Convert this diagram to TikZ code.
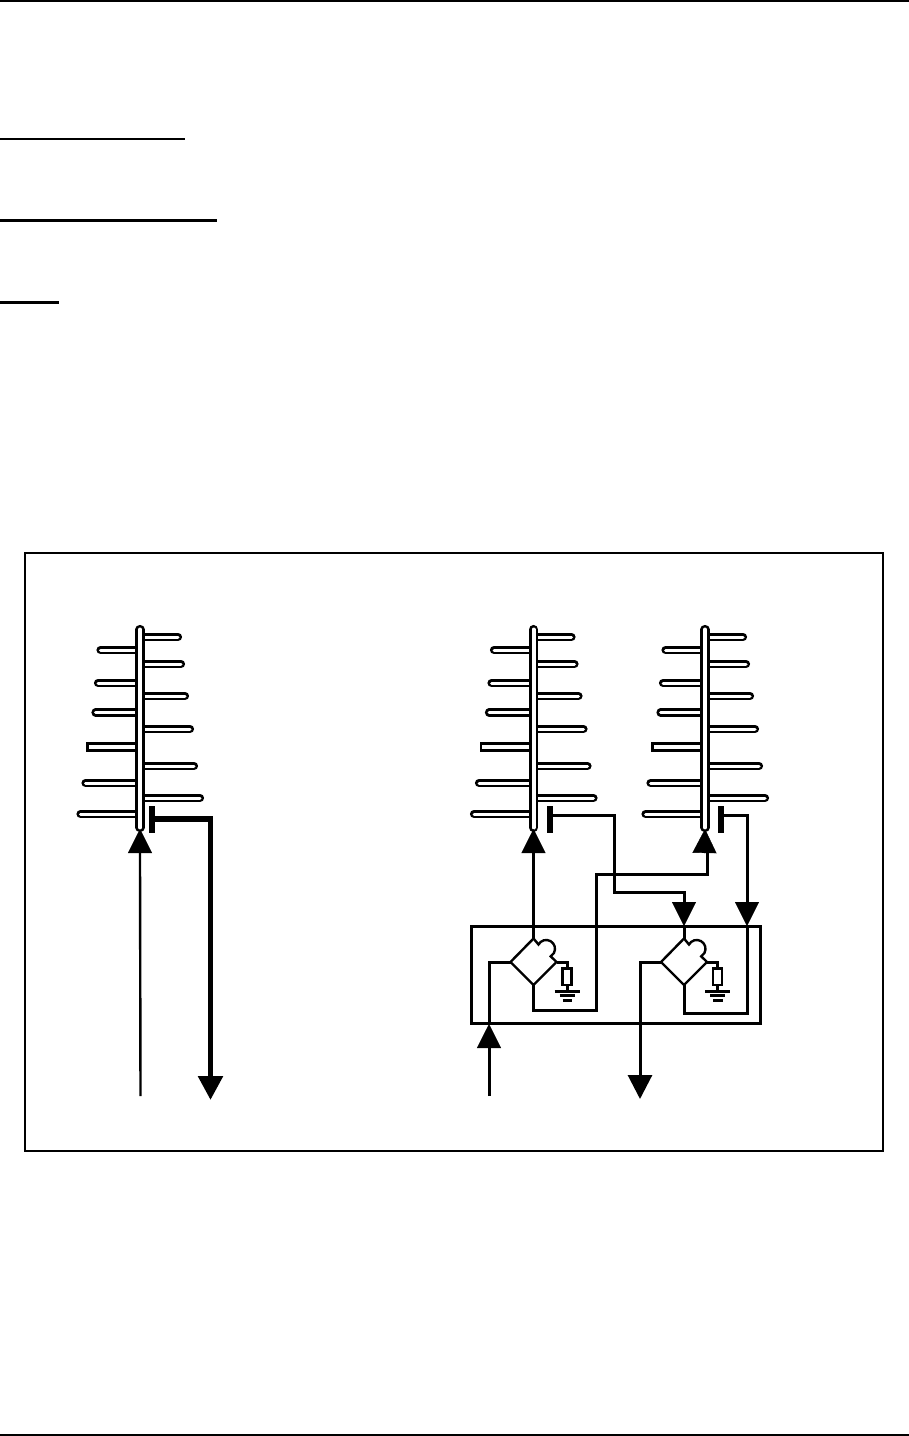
\documentclass[tikz,border=0pt]{standalone}
\usetikzlibrary{arrows.meta}
\tikzset{
  wire/.style={line width=3pt},
  rule/.style={line width=2.4pt},
  head/.style={-{Triangle[width=24pt,length=24pt]}},
  rod/.style={line width=2.6pt, double=white, double distance=3pt, line cap=round},
  bar/.style={line width=6pt}
}
% one antenna, #1 is the name, #2 the x of its boom
\newcommand{\yagi}[2]{
  \foreach \dx/\y in {38/637,41/664,45/696,50/729,54/766,60/798,-39.5/650,-42/683,-44.5/712.5,-54.5/783,-59.5/814}
    \draw[rod] (#2,\y) -- ({#2+\dx},\y);
  \draw[line width=2.6pt, fill=white] ({#2-52.5},743.5) rectangle (#2,750.5);
  \draw[line width=2.6pt, double=white, double distance=4pt, line cap=round] (#2,629.5) -- (#2,827.5);
  \coordinate (#1tip) at (#2,829);
  \coordinate (#1base) at (#2,853);
}
% one coupler, #1 is the name, #2 the x of its centre
\newcommand{\coupler}[2]{
  \coordinate (#1top) at (#2,938.5);
  \coordinate (#1bot) at (#2,985);
  \coordinate (#1left) at ({#2-23},962);
  \coordinate (#1right) at ({#2+23},962);
  \draw[line width=2.4pt, line join=miter] (#1top) -- ({#2+5},944.5) arc (209:419:8.8) -- (#1right) -- (#1bot) -- (#1left) -- cycle;
  \draw[wire] (#1right) -- ({#2+33.5},962) -- ({#2+33.5},968);
  \draw[line width=2.4pt, fill=white] ({#2+29},968.5) rectangle ({#2+38},985);
  \draw[wire] ({#2+33.5},985) -- ({#2+33.5},991);
  \draw[wire] ({#2+21},991) -- ({#2+46},991);
  \draw[wire] ({#2+26},995.7) -- ({#2+41},995.7);
  \draw[wire] ({#2+29},1000) -- ({#2+38.5},1000);
}
\begin{document}
\begin{tikzpicture}[x=1pt,y=-1pt]
  \useasboundingbox (0,0) rectangle (909,1436);
  % page rules
  \draw[rule] (0,.7) -- (909,.7) (0,1435.3) -- (909,1435.3);
  \draw[rule] (0,139) -- (185,139) (0,220.5) -- (217,220.5) (0,302.5) -- (59,302.5);
  \draw[rule] (25,553) rectangle (883,1151);
  % the single antenna
  \yagi{a}{140}
  \draw[bar] (152,806) -- (152,833);
  \coordinate (afeed) at (152,819);
  \coordinate (ain) at (140.5,1096);
  \coordinate (aout) at (210.5,1100);
  \draw[line width=2.4pt] (ain) -- (140,853);
  \draw[head] (140,853) -- (atip);
  \draw[line width=5.5pt, head] (afeed) -| (aout);
  % the pair with its couplers
  \yagi{b}{533.5}
  \yagi{c}{705}
  \draw[bar] (550,806) -- (550,833);
  \draw[bar] (721,806) -- (721,833);
  \coordinate (bfeed) at (550,815);
  \coordinate (cfeed) at (721,815);
  \draw[wire] (471,926) rectangle (760.5,1023.5);
  \coupler{p}{533.5}
  \coupler{q}{684}
  \coordinate (in) at (489,1096);
  \coordinate (out) at (640,1099);
  \coordinate (pin) at (489,1024);
  \coordinate (qhead) at (684,926);
  \coordinate (chead) at (747,926);
  \draw[wire] (ptop) -- (bbase);
  \draw[head] (bbase) -- (btip);
  \draw[wire] (pbot) -- (533.5,1010) -- (596.5,1010) -- (596.5,874) -- (707,874) -- (707,853);
  \draw[head] (704.5,853) -- (ctip);
  \draw[wire] (bfeed) -- (614.5,815) -- (614.5,892) -- (684,892) -- (684,904);
  \draw[head] (684,902) -- (qhead);
  \draw[wire] (qhead) -- (qtop);
  \draw[wire] (cfeed) -- (747,815) -- (747,904);
  \draw[head] (747,902) -- (chead);
  \draw[wire] (chead) -- (747,1013) -- (684,1013) -- (qbot);
  \draw[wire] (in) -- (489,1046);
  \draw[head] (489,1048) -- (pin);
  \draw[wire] (489,1024) -- (489,962) -- (pleft);
  \draw[wire, head] (qleft) -| (out);
\end{tikzpicture}
\end{document}
